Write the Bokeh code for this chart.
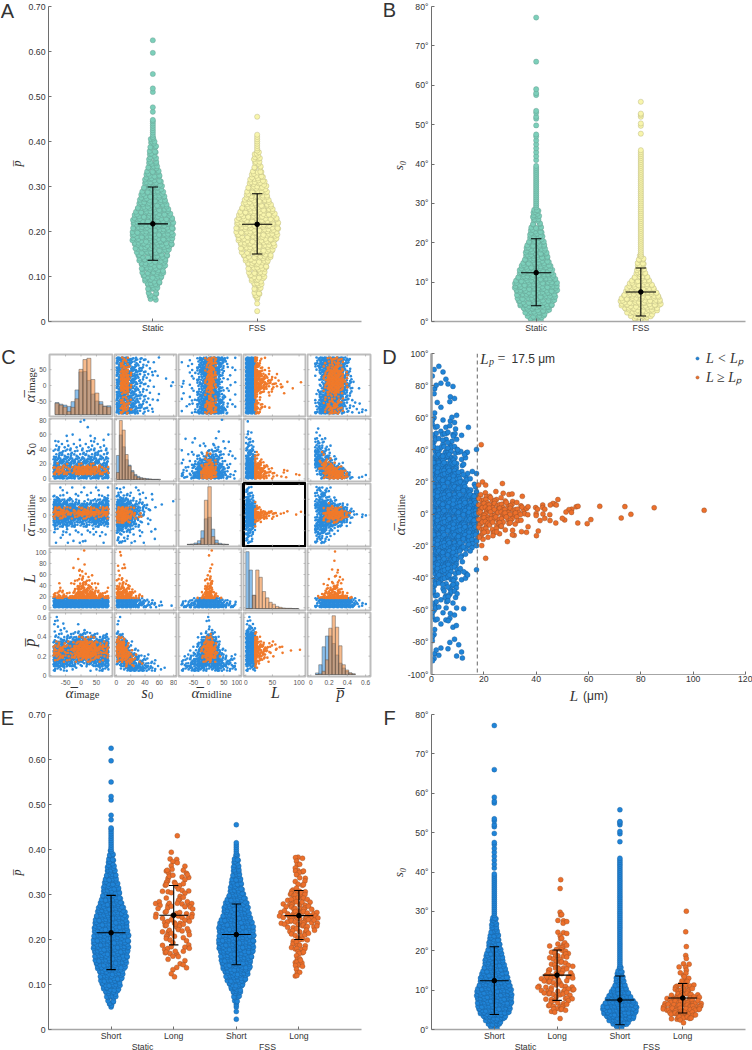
import math
from bokeh.plotting import figure
from bokeh.layouts import row, column
from bokeh.models import (Range1d, FixedTicker, Label, Legend, LegendItem, Span)
from bokeh.core.properties import value
from bokeh.embed import file_html
from bokeh.resources import INLINE

# ---------- swarm data: y levels and how many cells sit on each level ----------
P_LEVELS = [.05,.06,.07,.08,.09,.10,.11,.12,.13,.14,.15,.16,.17,.18,.19,.20,.21,.22,.23,.24,.25,.26,.27,.28,.29,.30,
            .31,.32,.33,.34,.35,.36,.37,.38,.39,.40,.41,.42,.43,.44]
S_LEVELS = list(range(0, 44))

A_STATIC = [2,2,3,3,4,5,5,6,6,7,7,8,9,10,9,10,9,10,9,8,8,7,6,6,5,5,4,4,3,3,3,2,2,2,2,2,1,1,1,1]
A_FSS    = [1,2,2,2,3,4,4,5,5,6,7,8,8,9,9,10,10,10,9,8,8,7,6,5,5,5,4,3,3,2,2,2,2,1,1,1,1,0,0,0]
A_STATIC_OUT = [.448,.466,.476,.51,.518,.55,.597,.625]
A_FSS_OUT = [.023,.04,.455]
B_STATIC = [2,4,5,6,8,8,9,9,10,10,10,9,8,8,7,6,6,5,5,5,4,4,3,3,3,2,2,2,2,1,1,1,1,1,1,1,1,1,1,1,0,0,0,0]
B_FSS    = [2,4,6,8,9,10,9,8,7,6,5,4,3,2,2,2,2,1,1,1,1,1,1,1,1,1,1,1,1,1,1,1,1,1,1,1,1,1,1,1,1,1,1,1]
B_STATIC_OUT = [41,42,43,44,45,46,47,47.5,49.8,51.5,52,53,53.5,57.5,58,59,66,77.2]
B_FSS_OUT = [47.7,49.7,50.3,52,52.5,52.8,55.8]

E_STATIC_SHORT = [1,2,3,4,5,6,7,7,8,9,10,10,11,11,11,11,11,11,10,10,10,9,8,7,6,6,5,5,4,4,3,3,2,2,2,1,1,1,1,1]
E_FSS_SHORT    = [1,1,2,3,3,5,6,7,8,9,9,10,10,11,11,11,11,11,11,10,9,8,8,7,6,5,4,4,3,3,3,2,2,2,1,1,1,0,0,0]
F_STATIC_SHORT = [2,3,5,7,9,10,10,11,11,11,11,10,9,9,8,7,7,6,6,5,5,4,4,3,3,3,2,2,2,1,1,1,1,1,1,1,1,1,1,1,0,0,0,0]
F_FSS_SHORT    = [1,3,6,9,10,11,11,9,8,6,5,4,3,3,2,2,1,1,1,1,1,1,1,1,1,1,1,1,1,1,1,1,1,1,1,1,1,1,1,1,1,1,1,1]

# occupancy rows for the long-cell swarms, top row first, one row per 0.01 or per 1 degree
Z10 = "0000000000"
E_STATIC_LONG = ["0000010000",Z10,Z10,Z10,"0000100000","0000110000","0000110000","0000200100","0003000110","0002100120","0002010100",
                 "0011021100","0011001110","0000101100","0001002100","1202010121","0101100102","1011011011","1010101111","0011111110",
                 "0011021100","0012001120","0002110010","0001100110","0010100010","0011100110","0011120100","0001101000","0000001100",
                 "0000010110","0000100000","0000110000"]
E_FSS_LONG = ["0000210000","0000210000","0000100000","0000221000","0000111000","0000101000","0000111000","0002211000","0012121000",
              "0013111100","0112121100","0102112110","1112211111","1122212122","1021112121","0111112111","0011112010","0001111100",
              "0001120100","0001211000","0001211000","0000121000","0000210000","0000220000","0000210000","0000210000","0000200000"]
F_STATIC_LONG = ["0000010000",Z10,"0000010000",Z10,Z10,Z10,Z10,Z10,"0000010000","0000011000","0000011000","0000001100",Z10,"0000011000",
                 "0000010100","0000011000","0000012000","0001012100","0001102100","0000211200","0001110100","0001111100","0000211110",
                 "0011021100","0021101020","0121110110","0111120100","2011101110","0111012111","0111111110","0011100210","0001111100",
                 "0011112100","0001211100","0000100000","0000010000"]
F_FSS_LONG = ["0000010000",Z10,Z10,Z10,Z10,"0000010000",Z10,Z10,Z10,"0000010000",Z10,"0000010000","0000010000","0000011000","0000110000",
              "0000010000","0000120000","0000021000","0000111000","0002122100","0002212100","0012122110","0112212111","1121212221",
              "2122212212","1222222121","0122221210","0012222100","0000110000"]

# mean, low, high of the black marks
A_STATS = [(.217,.136,.299),(.216,.150,.284)]
B_STATS = [(12.4,4,21),(7.5,1.4,13.6)]
E_STATS = [(.215,.133,.298),(.254,.188,.320),(.211,.144,.279),(.253,.200,.309)]
F_STATS = [(12.4,3.8,21),(13.8,7.4,20.2),(7.5,1.2,13.6),(8.0,4.2,11.7)]

P_TICKS = [0,.1,.2,.3,.4,.5,.6,.7]
P_TICK_TEXT = ["0","0.10","0.20","0.30","0.40","0.50","0.60","0.70"]
S_TICKS = [0,10,20,30,40,50,60,70,80]
AM_TICKS = [-100,-80,-60,-40,-20,0,20,40,60,80,100]
L_TICKS = [0,20,40,60,80,100,120]

# ---------- panel D: outlying points and occupancy rows ----------
D_LONG_L  = [19,19.5,20.7,27.1,18,24.6,30.8,34.7,48.3,47,46.4,45.4,47.7,42.5,42.5,39.8,40.5,43.3,36.3,36.9,55.3,56,64.3,73.9,85.1,104.2,
             53.6,52.5,51.4,53.5,45.2,40,42.6,40,36.8,76.2,72.5,60.9,59.5,55.9,50.9,50,47.5,45.3,41.5,43.3,36.9,36.3,34.4,40.8,40.1,31.6,
             30.9,29,19.2,20.7,19.7,18.2,21.6,23.5,24.9,26.7]
D_LONG_AM = [43.2,20,18,19,18,14,12.5,11,9,6.2,6.6,5.6,5.6,5.6,4,4,3,3,3.5,4.5,4.5,4.8,4.8,4.6,3.9,2.3,
             3,2.7,1.2,1,-.4,.2,0,-1,-.4,-.2,-2.5,-3.5,-6,-5.6,-3.7,-2.7,-5.6,-4.1,-4.1,-2.7,-7.9,-11.4,-11,-10.6,-13.5,-13.3,
             -13,-17.2,-19.7,-27.6,-15.8,-14.5,-14.5,-13.5,-11.2,-7.5]
D_SHORT_L = [14.1,13.7,12.6,11.2,10,13.8,12.3,11,9.5]
D_SHORT_AM = [54,38.5,37,39,40,-38,-36,-34,-69.5]
D_LONG_GRID = ["121011000","222211100","332222211","333332222","333333322","333322221","332221110","221111100","221110000"]
D_SHORT_GRID = ["111000000","101000000","210110000","100100000","010110000","110000000","201210000","211120000","313131000",
                "313310000","353531101","666531100","666651100","666663311","666666311","666666633","666666666","666666666",
                "666666666","666666666","666666666","666666663","666666331","666663110","666651000","666531101","353331100",
                "313330000","313330000","311110000","312110100","211210000","110010000","200000000","100111000","210101000","210011000"]

# ---------- panel C: occupancy rows per variable pair (top row = largest y) ----------
Z = "00000000000000"
AI_S0_B = ["68753221001000","68643211010000","68654321100000","68864321110000","69865321101000","69965311100010","69964221000001",
           "69964211010001","59864211100000","59654321001000","69654321101000","79765321100000","79765322100000","79865321100000"]
AI_S0_O = ["03200000000000","03200000000000","04310000000000","05510000000000","06610000000000","08710000000000","08810000000000",
           "07710000000000","04500000000000","02200000000000","02210000000000","04410000000000","05410000000000","04300000000000"]
AI_AM_B = ["00103689986301","10103799974200","01004799963101","00213899973001","00102599952010","10013599951100","10103599951011",
           "10102599952100","10013599952010","00104699963101","10115799974010","00204899964101","01013799985201","10115899997300"]
AI_AM_O = ["00000026400000","00000025300000","00000015200000","00000026300000","00000027300000","00000028300000","00000029300000",
           "00000028200000","00000014100000","00000013100000","00000014200000","00000036300000","00000037400000","00000036300000"]
AI_L_B = ["99400000000000"]*14
AI_L_O = ["00621000000000","00420000000000","00631100000000","00852100000000","00964211000000","00975321100000","00986422101001",
          "00975321110100","00742110010000","00410100000000","00310000000000","00521000000000","00632100000000","00420000000000"]
AI_P_B = ["03899998520000","03789997410000","02689997310000","01589999420000","01479999520000","00369999520000","00269999631000",
          "00279999631100","01469999520000","01689998410000","01689996311000","02789996311100","03899986211110","03999986211111"]
AI_P_O = ["00002442000000","00012341000000","00013542000000","00026774100000","00027885100000","00028996200000","00028996200000",
          "00017885100000","00014552000000","00012220000000","00012321000000","00013431000000","00024542000000","00013431000000"]
S0_AM_B = ["00000000001000",Z,"00000000010000",Z,"01010000100000","00100100101010","00001010210100","10100122331010","01012234432011",
           "10113467642101","10125799963110","12137999985210","21259999996311","32369999997412"]
S0_AM_O = [Z,Z,Z,Z,Z,Z,Z,"00000010000000","00000011000000","00000022100000","00000144200000","00000477400000","00000799700000","00000477300000"]
S0_L_B = ["10000000000000",Z,"10000000000000","11000000000000","21000000000000","32000000000000","33000000000000","55100000000000",
          "66200000000000","88300000000000","99500000000000","99700000000000","99900000000000","99900000000000"]
S0_L_O = [Z,Z,Z,Z,Z,Z,Z,"00100000000000","00210000000000","00320000000000","00552100000000","00874210010000","00986321011010","00975321101001"]
S0_P_B = [Z,Z,"01000000000000","01100000000000","02110000000000","03210000000000","04421000000000","06532000000000","07643100000000",
          "08865210000000","07987421000000","04899865100000","02699998520000","00369999741111"]
S0_P_O = [Z,Z,Z,Z,Z,Z,Z,"00100000000000","00010000000000","00121000000000","00253200000000","00368631000000","00048997300000","00025797400000"]
AM_L_B = ["31000000000000","42000000000000","43000000000000","74100000000000","98300000000000","99800000000000","99900000000000",
          "99900000000000","99800000000000","98300000000000","64100000000000","53000000000000","32000000000000","42000000000000"]
AM_L_O = [Z,Z,Z,"00100000000000","00100000000000","00530000000000","00987532111011","00975321000000","00420000000000","00100000000000",Z,Z,Z,Z]
AM_P_B = ["03321000000000","02431000000000","02532100000000","04653210000000","06887643100000","05999999520000","03799999842110",
          "02799999731011","05999998410000","06987543100000","05653210000000","04532100000000","03421000000000","03321000000000"]
AM_P_O = [Z,Z,Z,Z,"00001100000000","00015542000000","00048997410000","00037885300000","00012331000000",Z,Z,Z,Z,Z]
L_P_B = [Z,Z,Z,Z,Z,Z,Z,Z,Z,Z,Z,"02689999841000","03799999974210","03899999985211"]
L_P_O = ["00000100000000",Z,"00000100000000",Z,"00000110000000","00000010000000","00000111000000","00001121000000","00011321000000",
         "00023542000000","00135763100000","01369999620000",Z,Z]

# ---------- panel C: histograms (relative heights, bin starts, bin width) ----------
H_AI = dict(start=-84, width=12.9, blue=[38,33,30,26,41,78,135,136,108,65,43,41,27,28],
            orange=[36,30,24,10,23,50,143,174,178,111,68,33,26,24])
H_S0 = dict(start=0, width=4.1, blue=[75,139,102,62,45,28,16,10,6,4,3,2,1,1,1],
            orange=[22,184,154,78,42,24,12,6,4,3,1,1,0,0,0])
H_AM = dict(start=-71, width=11.4, blue=[1,2,5,12,43,80,85,48,14,4,2,1], orange=[0,0,1,3,20,138,180,25,5,1,0,0])
H_L = dict(start=0, width=6.2, blue=[180,122,42,0,0,0,0,0,0,0,0,0,0,0,0,0],
           orange=[0,0,42,122,99,54,34,20,14,7,4,2,1,1,0,0])
H_P = dict(start=.051, width=.0364, blue=[5,30,85,118,118,95,60,35,20,10,5,2], orange=[0,2,10,45,142,180,145,88,30,14,5,2])

VARS = ["ai","s0","am","L","p"]
SPAN = dict(ai=(-90,90), s0=(0,80), am=(-90,90), L=(0,105), p=(0,.63))
ROW_RANGE = dict(ai=(-98,98), s0=(-3.5,81), am=(-100,100), L=(-5,107), p=(-.01,.65))
COL_RANGE = dict(ai=(-102,102), s0=(-2.7,84), am=(-99,108), L=(-4.3,112), p=(-.036,.654))
ROW_TICKS = dict(ai=[-50,0,50], s0=[0,20,40,60,80], am=[-50,0,50], L=[0,20,40,60,80,100], p=[0,.2,.4,.6])
COL_TICKS = dict(ai=[-50,0,50], s0=[0,20,40,60,80], am=[-50,0,50,100], L=[0,50,100], p=[0,.2,.4,.6])
PAIRS = {("ai","s0"):(AI_S0_B,AI_S0_O),("ai","am"):(AI_AM_B,AI_AM_O),("ai","L"):(AI_L_B,AI_L_O),("ai","p"):(AI_P_B,AI_P_O),
         ("s0","am"):(S0_AM_B,S0_AM_O),("s0","L"):(S0_L_B,S0_L_O),("s0","p"):(S0_P_B,S0_P_O),
         ("am","L"):(AM_L_B,AM_L_O),("am","p"):(AM_P_B,AM_P_O),("L","p"):(L_P_B,L_P_O)}
HISTS = dict(ai=H_AI, s0=H_S0, am=H_AM, L=H_L, p=H_P)

# ---------- style ----------
TEAL, YELLOW = "#7ccfba", "#f8f5ac"
BLUE, ORANGE = "#1f84d8", "#ec6f2b"
SC_BLUE, SC_ORANGE = "#2a8bdc", "#f07a2b"
EDGE_T, EDGE_Y = "#5c8f83", "#a5a272"
EDGE_B, EDGE_O = "#1a568f", "#8a4f2a"
SANS = "Liberation Sans"; SERIF = "Liberation Serif"
PAT = [(.5,.5),(.2,.8),(.8,.2),(.15,.3),(.75,.7),(.4,.1),(.6,.9),(.9,.45),(.1,.6)]

def cells(grid, xr, yr):
    """Expand occupancy rows into points inside each cell."""
    nr, nc = len(grid), len(grid[0])
    xs, ys = [], []
    for r, line in enumerate(grid):
        for c, ch in enumerate(line):
            s = (r*3 + c*5) % 9
            for k in range(int(ch)):
                fx, fy = PAT[(s+k) % 9]
                xs.append(xr[0] + (c+fx)*(xr[1]-xr[0])/nc)
                ys.append(yr[1] - (r+fy)*(yr[1]-yr[0])/nr)
    return xs, ys

def swarm(levels, counts, center, dx, sub=1):
    """Beeswarm layout: packs each level's cells around the centre so the outline stays smooth."""
    xs, ys = [], []
    step = levels[1]-levels[0]
    last = len(counts)-1
    w = [(counts[max(k-1,0)] + 2*counts[k] + counts[min(k+1,last)])/4 for k in range(last+1)]
    idx = 0
    for k, lv in enumerate(levels):
        for j in range(sub):
            t = j/sub
            wk = w[k]*(1-t) + w[min(k+1,last)]*t
            if wk < .4:
                continue
            m = max(1, round(wk))
            spread = max(wk-1, 0)*dx
            for i in range(m):
                fx, fy = PAT[(i*2+idx) % 9]
                if m == 1:
                    xs.append(center); ys.append(lv + t*step)
                else:
                    xs.append(center - spread/2 + i*spread/(m-1) + (fx-.5)*dx*.5)
                    ys.append(lv + t*step + (fy-.5)*step*.6)
            idx += 1
    return xs, ys

overlay = figure(x_range=Range1d(0,752), y_range=Range1d(1050,0), width=752, height=1050, tools="", toolbar_location=None,
                 output_backend="svg", min_border=0, outline_line_color=None, background_fill_color=None, border_fill_color=None,
                 x_axis_type=None, y_axis_type=None, margin=(0,0,0,0),
                 styles={"position":"absolute","left":"0px","top":"0px","pointer-events":"none","z-index":"5"})
overlay.grid.visible = False

def put(text, px, py, size=8.7, font=SANS, style="normal", color="#333333", rot=False, align="center"):
    overlay.add_layout(Label(x=px, y=py, text=text, text_font=font, text_font_size=f"{size}px", text_font_style=style,
                             text_color=color, angle=math.pi/2 if rot else 0, text_align=align, text_baseline="middle"))

def base_fig(xr, yr, left, top, w, h, right, bottom):
    p = figure(x_range=Range1d(*xr), y_range=Range1d(*yr), frame_width=w, frame_height=h, tools="", toolbar_location=None,
               output_backend="svg", min_border_left=left, min_border_right=right, min_border_top=top, min_border_bottom=bottom,
               outline_line_color=None, background_fill_color=None, border_fill_color=None, margin=(0,0,0,0))
    p.grid.visible = False
    return p

def style_axes(p, xt, xl, yt, yl, ycolor="#6e6e6e", ywidth=1, xcolor="#a6a6a6", xwidth=1.5):
    for ax, t, l, c, w in ((p.xaxis[0], xt, xl, xcolor, xwidth), (p.yaxis[0], yt, yl, ycolor, ywidth)):
        ax.ticker = FixedTicker(ticks=t)
        ax.major_label_overrides = dict(zip(t, l))
        ax.major_tick_in, ax.major_tick_out = 3, 0
        ax.minor_tick_in, ax.minor_tick_out = 0, 0
        ax.major_tick_line_color = "#6e6e6e"
        ax.major_label_standoff = 3
        ax.major_label_text_font = SANS
        ax.major_label_text_font_size = "8.7px"
        ax.major_label_text_color = "#333333"
        ax.axis_line_color = c
        ax.axis_line_width = w
    p.xaxis[0].major_label_standoff = 1

def dots(p, x, y, color, size=5.2, edge="#5a5a5a", lw=.35):
    return p.scatter(x, y, size=size, fill_color=color, line_color=edge, line_width=lw)

def bars(p, cats, stats, hw, capw):
    x0, x1, y0, y1 = [], [], [], []
    for c, (m, lo, hi) in zip(cats, stats):
        x0 += [c, c-hw, c-capw, c-capw]; x1 += [c, c+hw, c+capw, c+capw]
        y0 += [lo, m, lo, hi]; y1 += [hi, m, lo, hi]
    p.segment(x0, y0, x1, y1, line_color="black", line_width=1.1)
    p.scatter(cats, [s[0] for s in stats], size=4.6, fill_color="black", line_color="black")

# ---------- A ----------
a = base_fig((0,3), (0,.7), 48, 6, 313, 315, 15, 19)
style_axes(a, [1,2], ["Static","FSS"], P_TICKS, P_TICK_TEXT)
x, y = swarm(P_LEVELS, A_STATIC, 1, .044, sub=2); dots(a, x+[1]*len(A_STATIC_OUT), y+A_STATIC_OUT, TEAL, edge=EDGE_T)
x, y = swarm(P_LEVELS, A_FSS, 2, .044, sub=2); dots(a, x+[2]*len(A_FSS_OUT), y+A_FSS_OUT, YELLOW, edge=EDGE_Y)
bars(a, [1,2], A_STATS, .145, .05)
put("A", 7, 10, size=20)
put("p\u0305", 16, 163, size=12, font=SERIF, style="italic", rot=True)

# ---------- B ----------
b = base_fig((0,3), (0,80), 55, 6, 314, 315, 7, 19)
style_axes(b, [1,2], ["Static","FSS"], S_TICKS, [f"{t}°" for t in S_TICKS])
x, y = swarm(S_LEVELS, B_STATIC, 1, .044, sub=2); dots(b, x+[1]*len(B_STATIC_OUT), y+B_STATIC_OUT, TEAL, edge=EDGE_T)
x, y = swarm(S_LEVELS, B_FSS, 2, .044, sub=2); dots(b, x+[2]*len(B_FSS_OUT), y+B_FSS_OUT, YELLOW, edge=EDGE_Y)
bars(b, [1,2], B_STATS, .145, .05)
put("B", 389, 9, size=20)
put("s\u2080", 398, 165, size=13, font=SERIF, style="italic", rot=True)

# ---------- C ----------
LEFTS = [(49,63,1),(1,62,1),(1,63,1),(1,62,1),(1,63,6)]
TOPS = [(14,62,1),(1,63,1),(1,63,1),(1,62,1),(1,64,26)]

def add_frame_ticks(p, xt, yt):
    xr, yr = (p.x_range.start, p.x_range.end), (p.y_range.start, p.y_range.end)
    dx, dy = (xr[1]-xr[0])*2/63, (yr[1]-yr[0])*2/63
    x0 = [t for t in xt] * 2 + [xr[0]]*len(yt) + [xr[1]-dx]*len(yt)
    x1 = [t for t in xt] * 2 + [xr[0]+dx]*len(yt) + [xr[1]]*len(yt)
    y0 = [yr[0]]*len(xt) + [yr[1]-dy]*len(xt) + list(yt)*2
    y1 = [yr[0]+dy]*len(xt) + [yr[1]]*len(xt) + list(yt)*2
    p.segment(x0, y0, x1, y1, line_color="#a8a8a8", line_width=.8)

rows = []
for i, rv in enumerate(VARS):
    line = []
    for j, cv in enumerate(VARS):
        lb, fw, rb = LEFTS[j]; tb, fh, bb = TOPS[i]
        yr = ROW_RANGE[rv]
        p = base_fig(COL_RANGE[cv], yr, lb, tb, fw, fh, rb, bb)
        p.outline_line_color = "#bdbdbd"; p.outline_line_width = 2
        if rv == "am" and cv == "L":
            p.outline_line_color = "black"; p.outline_line_width = 3
        for ax, show, t in ((p.xaxis[0], i == 4, COL_TICKS[cv]), (p.yaxis[0], j == 0, ROW_TICKS[rv])):
            ax.visible = show
            ax.ticker = FixedTicker(ticks=t)
            ax.major_label_overrides = {v: str(v) for v in t}
            ax.axis_line_color = None
            ax.major_tick_in, ax.major_tick_out = 0, 0
            ax.minor_tick_in, ax.minor_tick_out = 0, 0
            ax.major_tick_line_color = None
            ax.major_label_standoff = 3
            ax.major_label_text_font = SANS
            ax.major_label_text_font_size = "6.6px"
            ax.major_label_text_color = "#555555"
        if i == j:
            H = HISTS[rv]
            scale = (yr[1]-yr[0])/196
            for key, col in (("blue", "#2a8bdc"), ("orange", "#f0842f")):
                lefts = [H["start"] + k*H["width"] for k in range(len(H[key]))]
                p.quad(left=lefts, right=[v + H["width"] for v in lefts], bottom=[yr[0]+6*scale]*len(H[key]),
                       top=[yr[0]+(v+6)*scale for v in H[key]],
                       fill_color=col, fill_alpha=.55, line_color="#555555", line_alpha=.8, line_width=.6)
        else:
            key = (rv, cv) if (rv, cv) in PAIRS else (cv, rv)
            flip = key != (rv, cv)
            yv, xv = key
            for grid, col, cl in ((PAIRS[key][0], SC_BLUE, "b"), (PAIRS[key][1], SC_ORANGE, "o")):
                xs, ys = cells(grid, SPAN[xv], SPAN[yv])
                if xv == "L":
                    xs = [min(v, 17.2) if cl == "b" else max(v, 17.8) for v in xs]
                if yv == "L":
                    ys = [min(v, 17.2) if cl == "b" else max(v, 17.8) for v in ys]
                if flip:
                    xs, ys = ys, xs
                p.scatter(xs, ys, size=2.6, fill_color=col, line_color=None)
        add_frame_ticks(p, COL_TICKS[cv], ROW_TICKS[rv])
        line.append(p)
    rows.append(line)
c_block = column(*[row(*l, spacing=0, margin=(0,0,0,0)) for l in rows], spacing=0, margin=(0,0,0,0))

put("C", 8, 356, size=20)
put("\u03b1\u0305", 29, 398, size=15, font=SERIF, style="italic", rot=True)
put("image", 31, 380, size=10.5, font=SERIF, rot=True)
put("s", 29, 452, size=16, font=SERIF, style="italic", rot=True)
put("0", 32, 445, size=10.5, font=SERIF, rot=True)
put("\u03b1\u0305", 29, 532, size=15, font=SERIF, style="italic", rot=True)
put("midline", 31, 510, size=10.5, font=SERIF, rot=True)
put("L", 29, 578, size=16, font=SERIF, style="italic", rot=True)
put("p\u0305", 29, 642, size=16, font=SERIF, style="italic", rot=True)
put("\u03b1\u0305", 69, 692, size=15, font=SERIF, style="italic")
put("image", 86, 694, size=10.5, font=SERIF)
put("s", 144, 692, size=16, font=SERIF, style="italic")
put("0", 150, 695, size=10.5, font=SERIF)
put("\u03b1\u0305", 195, 692, size=15, font=SERIF, style="italic")
put("midline", 215, 694, size=10.5, font=SERIF)
put("L", 275, 692, size=16, font=SERIF, style="italic")
put("p\u0305", 340, 692, size=16, font=SERIF, style="italic")

# ---------- D ----------
d = base_fig((0,120), (-100,100), 55, 13, 314, 321, 7, 28)
style_axes(d, L_TICKS, [str(t) for t in L_TICKS], AM_TICKS, [f"{t}°" for t in AM_TICKS], ycolor="#a0a0a0", ywidth=2.5, xcolor="#a6a6a6", xwidth=1)
d.add_layout(Span(location=17.5, dimension="height", line_color="#666666", line_dash="4 3", line_width=1))
xs, ys = cells(D_SHORT_GRID, (0,18), (-92.5,92.5))
xs = [min(v, 17.2) for v in xs]
r_short = d.scatter(xs+D_SHORT_L, ys+D_SHORT_AM, size=5, fill_color=BLUE, line_color=EDGE_B, line_width=.4)
xs, ys = cells(D_LONG_GRID, (17.8,35.8), (-13.5,13.5))
r_long = d.scatter(xs+D_LONG_L, ys+D_LONG_AM, size=5, fill_color=ORANGE, line_color=EDGE_O, line_width=.4)
put("D", 389, 356, size=20)
put("\u03b1\u0305", 399, 531, size=15, font=SERIF, style="italic", rot=True)
put("midline", 401, 510, size=10.5, font=SERIF, rot=True)
put("L", 573.5, 695, size=15, font=SERIF, style="italic")
put("(μm)", 595, 695, size=12)
put("L", 484, 358, size=15, font=SERIF, style="italic")
put("p", 491, 361, size=10, font=SERIF, style="italic")
put("=", 501, 358, size=14, font=SERIF)
put("17.5 μm", 511, 358, size=12, align="left")
leg = Legend(items=[LegendItem(label=value("L < L\u209a"), renderers=[r_short]), LegendItem(label=value("L \u2265 L\u209a"), renderers=[r_long])],
             location=(262, 288), background_fill_color=None, border_line_color=None, padding=0, margin=0, spacing=-2,
             glyph_width=8, glyph_height=12, label_height=12, label_standoff=5, label_text_font=SERIF,
             label_text_font_style="italic", label_text_font_size="14px", label_text_color="#333333")
d.add_layout(leg)

# ---------- E ----------
e = base_fig((0,5), (0,.7), 48, 12, 313, 315, 15, 21)
style_axes(e, [1,2,3,4], ["Short","Long","Short","Long"], P_TICKS, P_TICK_TEXT)
x, y = swarm(P_LEVELS, E_STATIC_SHORT, 1, .054, sub=2); dots(e, x+[1]*len(A_STATIC_OUT), y+A_STATIC_OUT, BLUE, size=5, edge=EDGE_B)
x, y = cells(E_STATIC_LONG, (1.68,2.32), (.115,.435)); dots(e, x, y, ORANGE, size=5, edge=EDGE_O)
x, y = swarm(P_LEVELS, E_FSS_SHORT, 3, .054, sub=2); dots(e, x+[3]*len(A_FSS_OUT), y+A_FSS_OUT, BLUE, size=5, edge=EDGE_B)
x, y = cells(E_FSS_LONG, (3.68,4.32), (.115,.385)); dots(e, x, y, ORANGE, size=5, edge=EDGE_O)
bars(e, [1,2,3,4], E_STATS, .23, .075)
put("E", 7, 717, size=20)
put("p\u0305", 16, 872, size=12, font=SERIF, style="italic", rot=True)
put("Static", 142, 1046)
put("FSS", 267, 1046)

# ---------- F ----------
f = base_fig((0,5), (0,80), 55, 12, 314, 315, 7, 21)
style_axes(f, [1,2,3,4], ["Short","Long","Short","Long"], S_TICKS, [f"{t}°" for t in S_TICKS])
x, y = swarm(S_LEVELS, F_STATIC_SHORT, 1, .054, sub=2); dots(f, x+[1]*len(B_STATIC_OUT), y+B_STATIC_OUT, BLUE, size=5, edge=EDGE_B)
x, y = cells(F_STATIC_LONG, (1.68,2.32), (2.5,38.5)); dots(f, x, y, ORANGE, size=5, edge=EDGE_O)
x, y = swarm(S_LEVELS, F_FSS_SHORT, 3, .054, sub=2); dots(f, x+[3]*len(B_FSS_OUT), y+B_FSS_OUT, BLUE, size=5, edge=EDGE_B)
x, y = cells(F_FSS_LONG, (3.68,4.32), (1.5,30.5)); dots(f, x, y, ORANGE, size=5, edge=EDGE_O)
bars(f, [1,2,3,4], F_STATS, .23, .075)
put("F", 389, 717, size=20)
put("s\u2080", 398, 872, size=13, font=SERIF, style="italic", rot=True)
put("Static", 525, 1046)
put("FSS", 651, 1046)

root = column(row(a, b, spacing=0, margin=(0,0,0,0)), row(c_block, d, spacing=0, margin=(0,0,0,0)),
              row(e, f, spacing=0, margin=(0,0,0,0)), overlay, spacing=0, margin=(0,0,0,0))
open("out.html", "w").write(file_html(root, INLINE))
